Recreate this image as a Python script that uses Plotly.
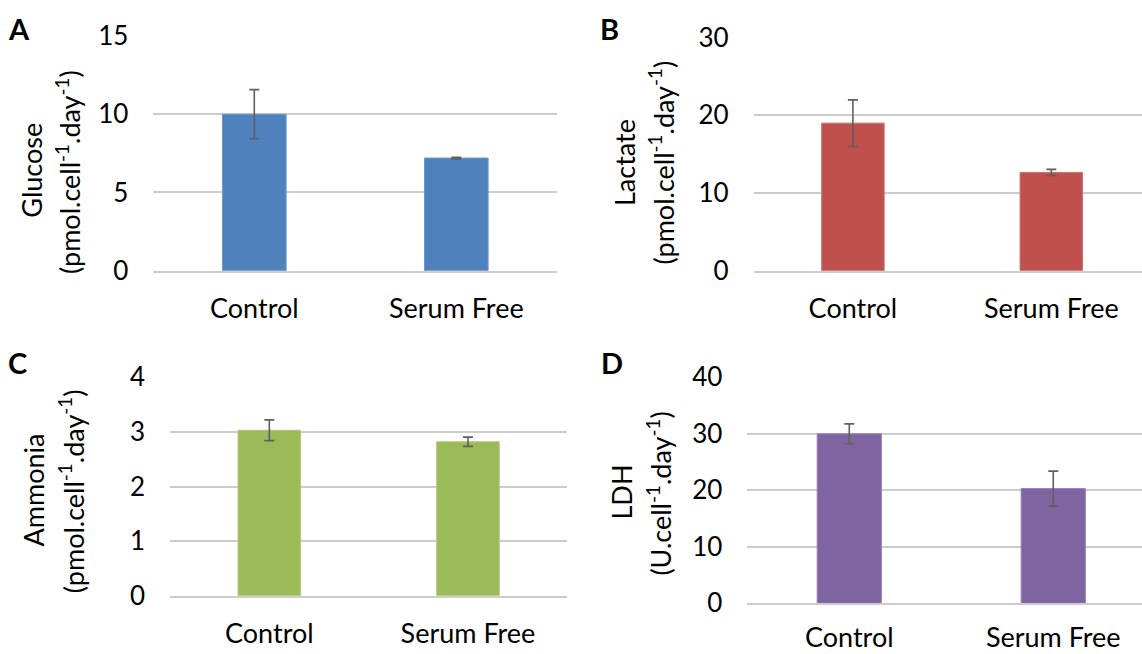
import plotly.graph_objects as go

categories = ["Control", "Serum Free"]
glucose = [10.0, 7.2]
glucose_err = [1.57, 0.05]
lactate = [19.0, 12.65]
lactate_err = [3.0, 0.4]
ammonia = [3.03, 2.82]
ammonia_err = [0.19, 0.085]
ldh = [30.0, 20.3]
ldh_err = [1.75, 3.1]

W, H = 1142, 654
FONT = "Lato"
FS = 26
GRID = "#cccccc"
ERR = "#5f5f5f"

def px_x(v):
    return v / W

def px_y(v):
    return 1 - v / H

panels = [
    dict(vals=glucose, err=glucose_err, color="#4F81BD", line="#6f97c9",
         xdom=[153.3, 557.3], ydom=[36.0, 270.7], xr=[-0.5, 1.5], yr=[0, 15], dt=5, so=13),
    dict(vals=lactate, err=lactate_err, color="#C0504D", line="#cd716e",
         xdom=[753.7, 1142], ydom=[37.7, 270.7], xr=[-0.5, 1.457], yr=[0, 30], dt=10, so=13),
    dict(vals=ammonia, err=ammonia_err, color="#9BBB59", line="#b0c97c",
         xdom=[170.0, 567.3], ydom=[377.3, 595.7], xr=[-0.5, 1.5], yr=[0, 4], dt=1, so=13),
    dict(vals=ldh, err=ldh_err, color="#8064A2", line="#9983b5",
         xdom=[747.3, 1142], ydom=[377.3, 603.3], xr=[-0.5, 1.435], yr=[0, 40], dt=10, so=9),
]

fig = go.Figure()
layout = dict(
    template="none",
    width=W, height=H, margin=dict(l=0, r=0, t=0, b=0, pad=0, autoexpand=False),
    paper_bgcolor="white", plot_bgcolor="white", showlegend=False,
    font=dict(family=FONT, size=FS, color="#000000"),
)

for i, p in enumerate(panels):
    n = "" if i == 0 else str(i + 1)
    fig.add_trace(go.Bar(
        x=categories, y=p["vals"], width=0.315,
        marker=dict(color=p["color"], line=dict(color=p["line"], width=1)),
        error_y=dict(type="data", array=p["err"], visible=True,
                     color=ERR, thickness=1.6, width=5),
        xaxis="x" + n, yaxis="y" + n,
    ))
    layout["xaxis" + n] = dict(
        domain=[px_x(p["xdom"][0]), px_x(p["xdom"][1])],
        anchor="y" + n, range=p["xr"], type="category", automargin=False,
        showgrid=False, showline=True, linecolor=GRID, linewidth=2,
        ticks="", ticklabelstandoff=p["so"], tickfont=dict(family=FONT, size=27, color="#000"),
        fixedrange=True,
    )
    layout["yaxis" + n] = dict(
        domain=[px_y(p["ydom"][1]), px_y(p["ydom"][0])],
        anchor="x" + n, range=p["yr"], dtick=p["dt"], tick0=0, automargin=False,
        showgrid=True, gridcolor=GRID, gridwidth=2,
        zeroline=False, showline=False, ticks="",
        ticklabelstandoff=24, tickfont=dict(family=FONT, size=FS, color="#000"),
        fixedrange=True,
    )

ann = []
def title(text, x, y):
    ann.append(dict(text=text, x=px_x(x), y=px_y(y), xref="paper", yref="paper",
                    textangle=-90, showarrow=False, xanchor="center", yanchor="middle",
                    font=dict(family=FONT, size=27, color="#000")))

title("Glucose", 31.7, 170)
title("(pmol.cell<sup>-1</sup>.day<sup>-1</sup>)", 68, 172)
title("Lactate", 624, 162)
title("(pmol.cell<sup>-1</sup>.day<sup>-1</sup>)", 661, 162.5)
title("Ammonia", 33, 490.5)
title("(pmol.cell<sup>-1</sup>.day<sup>-1</sup>)", 71.7, 491.5)
title("LDH", 621, 492.5)
title("(U.cell<sup>-1</sup>.day<sup>-1</sup>)", 659.3, 493.3)

for letter, x, y in [("A", 19, 28), ("B", 609.5, 28), ("C", 17.5, 362), ("D", 612, 362)]:
    ann.append(dict(text="<b>%s</b>" % letter, x=px_x(x), y=px_y(y), xref="paper", yref="paper",
                    showarrow=False, xanchor="center", yanchor="middle",
                    font=dict(family=FONT, size=29, color="#000")))

layout["annotations"] = ann
fig.update_layout(**layout)
fig.write_html(
    "out.html",
    config={"displayModeBar": False},
    post_script="document.body.style.margin='0';document.body.style.overflow='hidden';",
)
